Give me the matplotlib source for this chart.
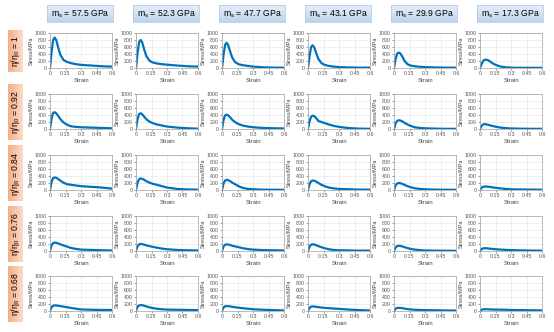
import numpy as np
import matplotlib.pyplot as plt
from matplotlib.colors import LinearSegmentedColormap

plt.rcParams['font.family'] = ['Liberation Sans', 'DejaVu Sans']

# column / row headers
moduli = ['57.5', '52.3', '47.7', '43.1', '29.9', '17.3']
ratios = ['1', '0.92', '0.84', '0.76', '0.68']

strain = [0, 0.015, 0.03, 0.045, 0.06, 0.08, 0.1, 0.13, 0.16, 0.2, 0.25, 0.3, 0.4, 0.5, 0.6]

# stress (MPa), one list per column, one block per row
stress_100 = [
    [0, 450, 800, 870, 800, 580, 380, 230, 180, 140, 110, 90, 70, 50, 40],
    [0, 420, 740, 800, 730, 520, 340, 210, 160, 130, 110, 95, 70, 50, 40],
    [0, 380, 660, 720, 650, 460, 290, 160, 110, 80, 60, 40, 20, 10, 10],
    [0, 340, 600, 650, 590, 420, 260, 140, 90, 60, 40, 25, 15, 10, 10],
    [0, 250, 410, 440, 420, 330, 210, 110, 70, 50, 35, 25, 15, 10, 10],
    [0, 110, 200, 235, 240, 220, 180, 120, 80, 40, 20, 10, 5, 5, 5],
]
stress_092 = [
    [0, 300, 460, 480, 450, 370, 280, 190, 130, 80, 60, 50, 40, 30, 20],
    [0, 280, 430, 450, 420, 350, 280, 210, 170, 130, 100, 70, 40, 20, 10],
    [0, 260, 390, 410, 390, 330, 260, 190, 140, 100, 70, 50, 30, 20, 15],
    [0, 220, 350, 380, 370, 310, 230, 200, 170, 130, 90, 60, 25, 10, 5],
    [0, 160, 230, 250, 245, 220, 180, 130, 90, 50, 30, 20, 10, 5, 5],
    [0, 90, 130, 140, 135, 120, 100, 80, 60, 40, 25, 15, 8, 5, 5],
]
stress_084 = [
    [0, 230, 340, 360, 350, 310, 270, 210, 170, 150, 130, 110, 90, 70, 40],
    [0, 210, 310, 330, 320, 290, 250, 210, 180, 150, 110, 70, 30, 15, 10],
    [0, 190, 270, 290, 280, 250, 210, 160, 110, 60, 30, 20, 10, 8, 5],
    [0, 170, 250, 270, 265, 240, 200, 150, 110, 70, 45, 30, 20, 10, 10],
    [0, 130, 185, 200, 195, 175, 150, 110, 80, 50, 30, 20, 10, 8, 5],
    [0, 65, 90, 100, 100, 95, 85, 70, 60, 45, 30, 20, 15, 10, 8],
]
stress_076 = [
    [0, 160, 225, 240, 235, 215, 190, 160, 130, 90, 60, 40, 30, 20, 15],
    [0, 140, 190, 200, 195, 180, 160, 140, 120, 95, 70, 50, 30, 20, 15],
    [0, 130, 180, 190, 185, 170, 150, 130, 110, 80, 55, 40, 25, 20, 15],
    [0, 130, 180, 190, 185, 165, 140, 110, 80, 50, 30, 20, 15, 10, 10],
    [0, 100, 140, 150, 145, 130, 110, 85, 60, 40, 25, 15, 10, 8, 5],
    [0, 55, 75, 80, 78, 72, 65, 55, 48, 40, 32, 25, 18, 12, 10],
]
stress_068 = [
    [0, 110, 150, 160, 158, 150, 140, 125, 110, 90, 65, 45, 35, 30, 30],
    [0, 120, 160, 170, 165, 150, 130, 105, 85, 65, 50, 40, 35, 30, 25],
    [0, 100, 135, 140, 138, 130, 120, 105, 95, 80, 65, 50, 35, 25, 15],
    [0, 90, 125, 130, 128, 120, 110, 100, 90, 80, 70, 60, 40, 25, 15],
    [0, 65, 85, 90, 88, 80, 70, 55, 45, 35, 30, 25, 20, 15, 12],
    [0, 35, 48, 50, 50, 48, 45, 42, 40, 38, 35, 30, 25, 20, 18],
]
all_rows = [stress_100, stress_092, stress_084, stress_076, stress_068]

W, H = 554, 332
fig = plt.figure(figsize=(W / 100, H / 100), dpi=100)

# background axes in pixel units for the header boxes
bg = fig.add_axes([0, 0, 1, 1])
bg.axis('off')

blue_cm = LinearSegmentedColormap.from_list('b', ['#e6eff9', '#bdd4ed'])
orange_cm = LinearSegmentedColormap.from_list('o', ['#f5ae86', '#fcdcc8'])

col_left = [50, 136, 222, 308, 394, 480]
row_top = [33, 94, 155, 216, 276]
aw, ah = 62, 35

for j, m in enumerate(moduli):
    x0, x1, y0, y1 = col_left[j] - 3, col_left[j] + 63, 5, 22
    grad = np.linspace(0, 1, 50).reshape(-1, 1)
    bg.imshow(grad, cmap=blue_cm, extent=(x0, x1, y1, y0), aspect='auto')
    bg.plot([x0, x1, x1, x0, x0], [y0, y0, y1, y1, y0], color='#b4cbe4', lw=0.6)
    bg.text((x0 + x1) / 2, (y0 + y1) / 2 + 0.5, 'm$_\\mathregular{s}$ = ' + m + ' GPa',
            ha='center', va='center', fontsize=6.2)

for i, r in enumerate(ratios):
    cy = row_top[i] + ah / 2 + 1
    half = 21 if r == '1' else 28
    x0, x1, y0, y1 = 8, 23, cy - half, cy + half
    grad = np.linspace(0, 1, 50).reshape(1, -1)
    bg.imshow(grad, cmap=orange_cm, extent=(x0, x1, y1, y0), aspect='auto')
    bg.text((x0 + x1) / 2 + 0.5, cy, '\u03b7/\u03b7$_\\mathregular{0}$ = ' + r,
            ha='center', va='center', rotation=90, fontsize=6.2)

bg.set_xlim(0, W)
bg.set_ylim(H, 0)

for i in range(5):
    for j in range(6):
        l = col_left[j] / W
        b = 1 - (row_top[i] + ah) / H
        ax = fig.add_axes([l, b, aw / W, ah / H])
        ax.plot(strain, all_rows[i][j], color='#0072BD', lw=1.6, solid_capstyle='round')
        ax.set_xlim(0, 0.6)
        ax.set_ylim(0, 1000)
        ax.set_xticks([0, 0.15, 0.3, 0.45, 0.6])
        ax.set_xticklabels(['0', '0.15', '0.3', '0.45', '0.6'])
        ax.set_yticks([0, 200, 400, 600, 800, 1000])
        ax.tick_params(labelsize=3.8, length=1.2, width=0.4, pad=1, colors='#555555')
        ax.grid(True, color='#e3e3e3', lw=0.4)
        for s in ax.spines.values():
            s.set_color('#a0a0a0')
            s.set_linewidth(0.5)
        ax.set_xlabel('Strain', fontsize=4.2, labelpad=1.5, color='#444444')
        ax.set_ylabel('Stress/MPa', fontsize=4, labelpad=1, color='#444444')

fig.savefig('out.png', dpi=100)
